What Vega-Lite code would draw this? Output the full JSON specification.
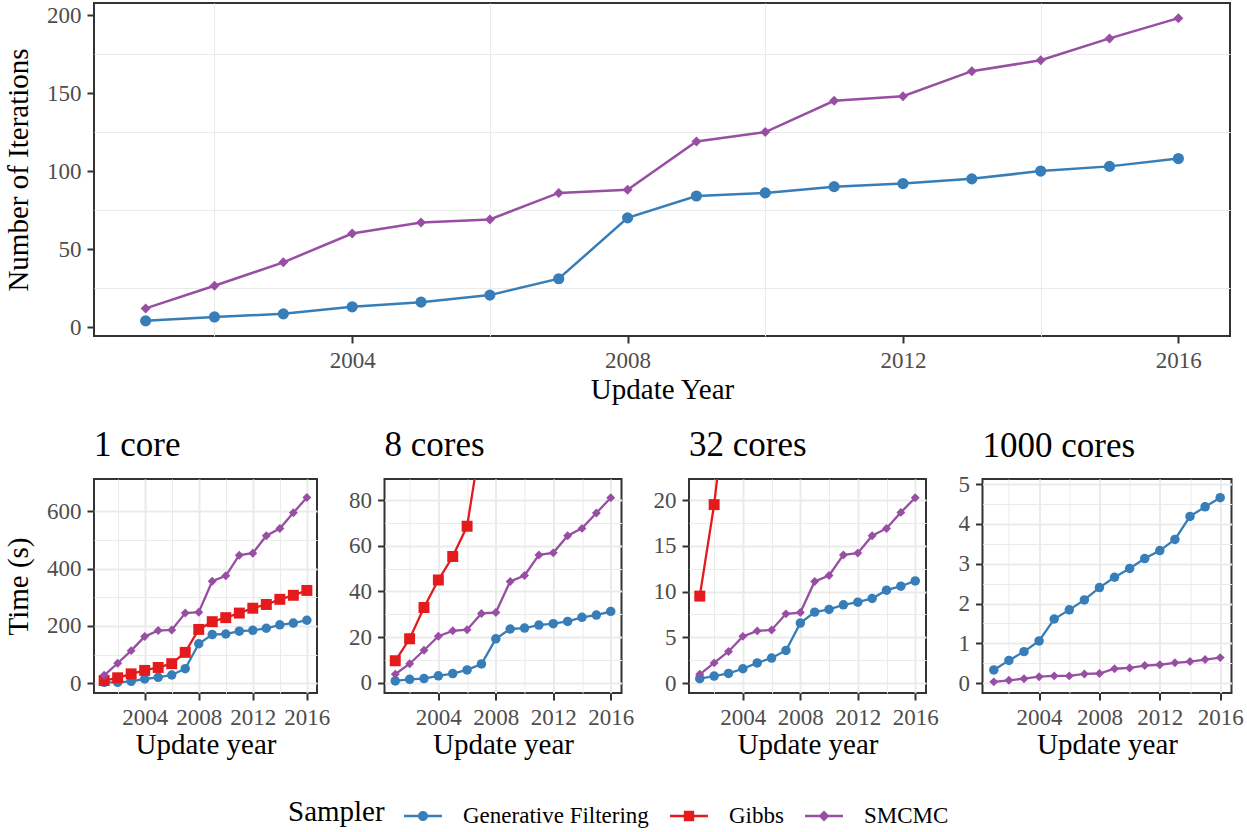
{
  "$schema": "https://vega.github.io/schema/vega-lite/v6.json",
  "padding": {"left": 3, "top": 2, "right": 4, "bottom": 5},
  "background": "white",
  "config": {
    "font": "Liberation Serif",
    "view": {"stroke": "#333333", "strokeWidth": 2},
    "axis": {
      "labelFont": "Liberation Serif", "labelFontSize": 23, "labelColor": "#4D4D4D",
      "titleFont": "Liberation Serif", "titleFontSize": 29, "titleFontWeight": "normal", "titleColor": "black",
      "tickColor": "#333333", "tickWidth": 2, "tickSize": 7, "domain": false,
      "gridColor": "#EBEBEB", "gridWidth": 2, "labelPadding": 6, "titlePadding": 3
    },
    "legend": {
      "orient": "none", "legendX": 194, "legendY": 793, "direction": "horizontal", "titleOrient": "left",
      "titleFontSize": 29, "titleFontWeight": "normal", "titleColor": "black", "titleFont": "Liberation Serif", "titlePadding": 18,
      "labelFontSize": 23, "labelColor": "black", "labelFont": "Liberation Serif", "labelOffset": 20, "columnPadding": 20, "labelLimit": 400,
      "symbolSize": 1600, "symbolStrokeWidth": 0, "symbolOpacity": 1
    },
    "title": {"font": "Liberation Serif", "fontSize": 35, "fontWeight": "normal", "anchor": "start", "frame": "group", "color": "black", "offset": 16}
  },
  "datasets": {
    "iter": [
      {"year": 2001, "sampler": "Generative Filtering", "iterations": 4},
      {"year": 2002, "sampler": "Generative Filtering", "iterations": 6.5},
      {"year": 2003, "sampler": "Generative Filtering", "iterations": 8.5},
      {"year": 2004, "sampler": "Generative Filtering", "iterations": 13},
      {"year": 2005, "sampler": "Generative Filtering", "iterations": 16},
      {"year": 2006, "sampler": "Generative Filtering", "iterations": 20.5},
      {"year": 2007, "sampler": "Generative Filtering", "iterations": 31},
      {"year": 2008, "sampler": "Generative Filtering", "iterations": 70},
      {"year": 2009, "sampler": "Generative Filtering", "iterations": 84},
      {"year": 2010, "sampler": "Generative Filtering", "iterations": 86},
      {"year": 2011, "sampler": "Generative Filtering", "iterations": 90},
      {"year": 2012, "sampler": "Generative Filtering", "iterations": 92},
      {"year": 2013, "sampler": "Generative Filtering", "iterations": 95},
      {"year": 2014, "sampler": "Generative Filtering", "iterations": 100},
      {"year": 2015, "sampler": "Generative Filtering", "iterations": 103},
      {"year": 2016, "sampler": "Generative Filtering", "iterations": 108},
      {"year": 2001, "sampler": "SMCMC", "iterations": 12},
      {"year": 2002, "sampler": "SMCMC", "iterations": 26.5},
      {"year": 2003, "sampler": "SMCMC", "iterations": 41.5},
      {"year": 2004, "sampler": "SMCMC", "iterations": 60},
      {"year": 2005, "sampler": "SMCMC", "iterations": 67},
      {"year": 2006, "sampler": "SMCMC", "iterations": 69},
      {"year": 2007, "sampler": "SMCMC", "iterations": 86},
      {"year": 2008, "sampler": "SMCMC", "iterations": 88},
      {"year": 2009, "sampler": "SMCMC", "iterations": 119},
      {"year": 2010, "sampler": "SMCMC", "iterations": 125},
      {"year": 2011, "sampler": "SMCMC", "iterations": 145},
      {"year": 2012, "sampler": "SMCMC", "iterations": 148},
      {"year": 2013, "sampler": "SMCMC", "iterations": 164},
      {"year": 2014, "sampler": "SMCMC", "iterations": 171},
      {"year": 2015, "sampler": "SMCMC", "iterations": 185},
      {"year": 2016, "sampler": "SMCMC", "iterations": 198}
    ],
    "time": [
      {"panel": "1 core", "year": 2001, "sampler": "Generative Filtering", "time": 3.5},
      {"panel": "1 core", "year": 2002, "sampler": "Generative Filtering", "time": 3.5},
      {"panel": "1 core", "year": 2003, "sampler": "Generative Filtering", "time": 7},
      {"panel": "1 core", "year": 2004, "sampler": "Generative Filtering", "time": 15},
      {"panel": "1 core", "year": 2005, "sampler": "Generative Filtering", "time": 21},
      {"panel": "1 core", "year": 2006, "sampler": "Generative Filtering", "time": 29},
      {"panel": "1 core", "year": 2007, "sampler": "Generative Filtering", "time": 51},
      {"panel": "1 core", "year": 2008, "sampler": "Generative Filtering", "time": 138},
      {"panel": "1 core", "year": 2009, "sampler": "Generative Filtering", "time": 170},
      {"panel": "1 core", "year": 2010, "sampler": "Generative Filtering", "time": 172},
      {"panel": "1 core", "year": 2011, "sampler": "Generative Filtering", "time": 182},
      {"panel": "1 core", "year": 2012, "sampler": "Generative Filtering", "time": 185},
      {"panel": "1 core", "year": 2013, "sampler": "Generative Filtering", "time": 192},
      {"panel": "1 core", "year": 2014, "sampler": "Generative Filtering", "time": 204},
      {"panel": "1 core", "year": 2015, "sampler": "Generative Filtering", "time": 210},
      {"panel": "1 core", "year": 2016, "sampler": "Generative Filtering", "time": 220},
      {"panel": "1 core", "year": 2001, "sampler": "Gibbs", "time": 9.7},
      {"panel": "1 core", "year": 2002, "sampler": "Gibbs", "time": 19.3},
      {"panel": "1 core", "year": 2003, "sampler": "Gibbs", "time": 33},
      {"panel": "1 core", "year": 2004, "sampler": "Gibbs", "time": 45},
      {"panel": "1 core", "year": 2005, "sampler": "Gibbs", "time": 55.3},
      {"panel": "1 core", "year": 2006, "sampler": "Gibbs", "time": 68.5},
      {"panel": "1 core", "year": 2007, "sampler": "Gibbs", "time": 108},
      {"panel": "1 core", "year": 2008, "sampler": "Gibbs", "time": 188},
      {"panel": "1 core", "year": 2009, "sampler": "Gibbs", "time": 215},
      {"panel": "1 core", "year": 2010, "sampler": "Gibbs", "time": 229},
      {"panel": "1 core", "year": 2011, "sampler": "Gibbs", "time": 245},
      {"panel": "1 core", "year": 2012, "sampler": "Gibbs", "time": 262},
      {"panel": "1 core", "year": 2013, "sampler": "Gibbs", "time": 275},
      {"panel": "1 core", "year": 2014, "sampler": "Gibbs", "time": 293},
      {"panel": "1 core", "year": 2015, "sampler": "Gibbs", "time": 307},
      {"panel": "1 core", "year": 2016, "sampler": "Gibbs", "time": 324},
      {"panel": "1 core", "year": 2001, "sampler": "SMCMC", "time": 28},
      {"panel": "1 core", "year": 2002, "sampler": "SMCMC", "time": 70},
      {"panel": "1 core", "year": 2003, "sampler": "SMCMC", "time": 114},
      {"panel": "1 core", "year": 2004, "sampler": "SMCMC", "time": 163},
      {"panel": "1 core", "year": 2005, "sampler": "SMCMC", "time": 184},
      {"panel": "1 core", "year": 2006, "sampler": "SMCMC", "time": 186},
      {"panel": "1 core", "year": 2007, "sampler": "SMCMC", "time": 245},
      {"panel": "1 core", "year": 2008, "sampler": "SMCMC", "time": 248},
      {"panel": "1 core", "year": 2009, "sampler": "SMCMC", "time": 356},
      {"panel": "1 core", "year": 2010, "sampler": "SMCMC", "time": 375},
      {"panel": "1 core", "year": 2011, "sampler": "SMCMC", "time": 447},
      {"panel": "1 core", "year": 2012, "sampler": "SMCMC", "time": 454},
      {"panel": "1 core", "year": 2013, "sampler": "SMCMC", "time": 515},
      {"panel": "1 core", "year": 2014, "sampler": "SMCMC", "time": 540},
      {"panel": "1 core", "year": 2015, "sampler": "SMCMC", "time": 595},
      {"panel": "1 core", "year": 2016, "sampler": "SMCMC", "time": 648},

      {"panel": "8 cores", "year": 2001, "sampler": "Generative Filtering", "time": 0.9},
      {"panel": "8 cores", "year": 2002, "sampler": "Generative Filtering", "time": 1.6},
      {"panel": "8 cores", "year": 2003, "sampler": "Generative Filtering", "time": 1.9},
      {"panel": "8 cores", "year": 2004, "sampler": "Generative Filtering", "time": 3.1},
      {"panel": "8 cores", "year": 2005, "sampler": "Generative Filtering", "time": 4.1},
      {"panel": "8 cores", "year": 2006, "sampler": "Generative Filtering", "time": 5.7},
      {"panel": "8 cores", "year": 2007, "sampler": "Generative Filtering", "time": 8.3},
      {"panel": "8 cores", "year": 2008, "sampler": "Generative Filtering", "time": 19.3},
      {"panel": "8 cores", "year": 2009, "sampler": "Generative Filtering", "time": 23.6},
      {"panel": "8 cores", "year": 2010, "sampler": "Generative Filtering", "time": 24},
      {"panel": "8 cores", "year": 2011, "sampler": "Generative Filtering", "time": 25.3},
      {"panel": "8 cores", "year": 2012, "sampler": "Generative Filtering", "time": 25.9},
      {"panel": "8 cores", "year": 2013, "sampler": "Generative Filtering", "time": 26.9},
      {"panel": "8 cores", "year": 2014, "sampler": "Generative Filtering", "time": 28.7},
      {"panel": "8 cores", "year": 2015, "sampler": "Generative Filtering", "time": 29.7},
      {"panel": "8 cores", "year": 2016, "sampler": "Generative Filtering", "time": 31.3},
      {"panel": "8 cores", "year": 2001, "sampler": "Gibbs", "time": 9.7},
      {"panel": "8 cores", "year": 2002, "sampler": "Gibbs", "time": 19.3},
      {"panel": "8 cores", "year": 2003, "sampler": "Gibbs", "time": 33},
      {"panel": "8 cores", "year": 2004, "sampler": "Gibbs", "time": 45},
      {"panel": "8 cores", "year": 2005, "sampler": "Gibbs", "time": 55.3},
      {"panel": "8 cores", "year": 2006, "sampler": "Gibbs", "time": 68.5},
      {"panel": "8 cores", "year": 2007, "sampler": "Gibbs", "time": 108},
      {"panel": "8 cores", "year": 2008, "sampler": "Gibbs", "time": 188},
      {"panel": "8 cores", "year": 2009, "sampler": "Gibbs", "time": 215},
      {"panel": "8 cores", "year": 2010, "sampler": "Gibbs", "time": 229},
      {"panel": "8 cores", "year": 2011, "sampler": "Gibbs", "time": 245},
      {"panel": "8 cores", "year": 2012, "sampler": "Gibbs", "time": 262},
      {"panel": "8 cores", "year": 2013, "sampler": "Gibbs", "time": 275},
      {"panel": "8 cores", "year": 2014, "sampler": "Gibbs", "time": 293},
      {"panel": "8 cores", "year": 2015, "sampler": "Gibbs", "time": 307},
      {"panel": "8 cores", "year": 2016, "sampler": "Gibbs", "time": 324},
      {"panel": "8 cores", "year": 2001, "sampler": "SMCMC", "time": 3.8},
      {"panel": "8 cores", "year": 2002, "sampler": "SMCMC", "time": 8.4},
      {"panel": "8 cores", "year": 2003, "sampler": "SMCMC", "time": 14.3},
      {"panel": "8 cores", "year": 2004, "sampler": "SMCMC", "time": 20.4},
      {"panel": "8 cores", "year": 2005, "sampler": "SMCMC", "time": 22.8},
      {"panel": "8 cores", "year": 2006, "sampler": "SMCMC", "time": 23.3},
      {"panel": "8 cores", "year": 2007, "sampler": "SMCMC", "time": 30.4},
      {"panel": "8 cores", "year": 2008, "sampler": "SMCMC", "time": 30.8},
      {"panel": "8 cores", "year": 2009, "sampler": "SMCMC", "time": 44.4},
      {"panel": "8 cores", "year": 2010, "sampler": "SMCMC", "time": 47},
      {"panel": "8 cores", "year": 2011, "sampler": "SMCMC", "time": 56},
      {"panel": "8 cores", "year": 2012, "sampler": "SMCMC", "time": 56.9},
      {"panel": "8 cores", "year": 2013, "sampler": "SMCMC", "time": 64.4},
      {"panel": "8 cores", "year": 2014, "sampler": "SMCMC", "time": 67.6},
      {"panel": "8 cores", "year": 2015, "sampler": "SMCMC", "time": 74.3},
      {"panel": "8 cores", "year": 2016, "sampler": "SMCMC", "time": 81},

      {"panel": "32 cores", "year": 2001, "sampler": "Generative Filtering", "time": 0.47},
      {"panel": "32 cores", "year": 2002, "sampler": "Generative Filtering", "time": 0.76},
      {"panel": "32 cores", "year": 2003, "sampler": "Generative Filtering", "time": 1.05},
      {"panel": "32 cores", "year": 2004, "sampler": "Generative Filtering", "time": 1.56},
      {"panel": "32 cores", "year": 2005, "sampler": "Generative Filtering", "time": 2.2},
      {"panel": "32 cores", "year": 2006, "sampler": "Generative Filtering", "time": 2.73},
      {"panel": "32 cores", "year": 2007, "sampler": "Generative Filtering", "time": 3.56},
      {"panel": "32 cores", "year": 2008, "sampler": "Generative Filtering", "time": 6.55},
      {"panel": "32 cores", "year": 2009, "sampler": "Generative Filtering", "time": 7.75},
      {"panel": "32 cores", "year": 2010, "sampler": "Generative Filtering", "time": 8.04},
      {"panel": "32 cores", "year": 2011, "sampler": "Generative Filtering", "time": 8.55},
      {"panel": "32 cores", "year": 2012, "sampler": "Generative Filtering", "time": 8.84},
      {"panel": "32 cores", "year": 2013, "sampler": "Generative Filtering", "time": 9.24},
      {"panel": "32 cores", "year": 2014, "sampler": "Generative Filtering", "time": 10.15},
      {"panel": "32 cores", "year": 2015, "sampler": "Generative Filtering", "time": 10.58},
      {"panel": "32 cores", "year": 2016, "sampler": "Generative Filtering", "time": 11.16},
      {"panel": "32 cores", "year": 2001, "sampler": "Gibbs", "time": 9.5},
      {"panel": "32 cores", "year": 2002, "sampler": "Gibbs", "time": 19.5},
      {"panel": "32 cores", "year": 2003, "sampler": "Gibbs", "time": 33},
      {"panel": "32 cores", "year": 2004, "sampler": "Gibbs", "time": 45},
      {"panel": "32 cores", "year": 2005, "sampler": "Gibbs", "time": 55.3},
      {"panel": "32 cores", "year": 2006, "sampler": "Gibbs", "time": 68.5},
      {"panel": "32 cores", "year": 2007, "sampler": "Gibbs", "time": 108},
      {"panel": "32 cores", "year": 2008, "sampler": "Gibbs", "time": 188},
      {"panel": "32 cores", "year": 2009, "sampler": "Gibbs", "time": 215},
      {"panel": "32 cores", "year": 2010, "sampler": "Gibbs", "time": 229},
      {"panel": "32 cores", "year": 2011, "sampler": "Gibbs", "time": 245},
      {"panel": "32 cores", "year": 2012, "sampler": "Gibbs", "time": 262},
      {"panel": "32 cores", "year": 2013, "sampler": "Gibbs", "time": 275},
      {"panel": "32 cores", "year": 2014, "sampler": "Gibbs", "time": 293},
      {"panel": "32 cores", "year": 2015, "sampler": "Gibbs", "time": 307},
      {"panel": "32 cores", "year": 2016, "sampler": "Gibbs", "time": 324},
      {"panel": "32 cores", "year": 2001, "sampler": "SMCMC", "time": 0.95},
      {"panel": "32 cores", "year": 2002, "sampler": "SMCMC", "time": 2.2},
      {"panel": "32 cores", "year": 2003, "sampler": "SMCMC", "time": 3.45},
      {"panel": "32 cores", "year": 2004, "sampler": "SMCMC", "time": 5.1},
      {"panel": "32 cores", "year": 2005, "sampler": "SMCMC", "time": 5.7},
      {"panel": "32 cores", "year": 2006, "sampler": "SMCMC", "time": 5.8},
      {"panel": "32 cores", "year": 2007, "sampler": "SMCMC", "time": 7.56},
      {"panel": "32 cores", "year": 2008, "sampler": "SMCMC", "time": 7.7},
      {"panel": "32 cores", "year": 2009, "sampler": "SMCMC", "time": 11.1},
      {"panel": "32 cores", "year": 2010, "sampler": "SMCMC", "time": 11.75},
      {"panel": "32 cores", "year": 2011, "sampler": "SMCMC", "time": 14},
      {"panel": "32 cores", "year": 2012, "sampler": "SMCMC", "time": 14.2},
      {"panel": "32 cores", "year": 2013, "sampler": "SMCMC", "time": 16.1},
      {"panel": "32 cores", "year": 2014, "sampler": "SMCMC", "time": 16.9},
      {"panel": "32 cores", "year": 2015, "sampler": "SMCMC", "time": 18.65},
      {"panel": "32 cores", "year": 2016, "sampler": "SMCMC", "time": 20.25},

      {"panel": "1000 cores", "year": 2001, "sampler": "Generative Filtering", "time": 0.33},
      {"panel": "1000 cores", "year": 2002, "sampler": "Generative Filtering", "time": 0.57},
      {"panel": "1000 cores", "year": 2003, "sampler": "Generative Filtering", "time": 0.79},
      {"panel": "1000 cores", "year": 2004, "sampler": "Generative Filtering", "time": 1.06},
      {"panel": "1000 cores", "year": 2005, "sampler": "Generative Filtering", "time": 1.61},
      {"panel": "1000 cores", "year": 2006, "sampler": "Generative Filtering", "time": 1.84},
      {"panel": "1000 cores", "year": 2007, "sampler": "Generative Filtering", "time": 2.09},
      {"panel": "1000 cores", "year": 2008, "sampler": "Generative Filtering", "time": 2.4},
      {"panel": "1000 cores", "year": 2009, "sampler": "Generative Filtering", "time": 2.66},
      {"panel": "1000 cores", "year": 2010, "sampler": "Generative Filtering", "time": 2.88},
      {"panel": "1000 cores", "year": 2011, "sampler": "Generative Filtering", "time": 3.13},
      {"panel": "1000 cores", "year": 2012, "sampler": "Generative Filtering", "time": 3.33},
      {"panel": "1000 cores", "year": 2013, "sampler": "Generative Filtering", "time": 3.61},
      {"panel": "1000 cores", "year": 2014, "sampler": "Generative Filtering", "time": 4.19},
      {"panel": "1000 cores", "year": 2015, "sampler": "Generative Filtering", "time": 4.43},
      {"panel": "1000 cores", "year": 2016, "sampler": "Generative Filtering", "time": 4.66},
      {"panel": "1000 cores", "year": 2001, "sampler": "SMCMC", "time": 0.03},
      {"panel": "1000 cores", "year": 2002, "sampler": "SMCMC", "time": 0.07},
      {"panel": "1000 cores", "year": 2003, "sampler": "SMCMC", "time": 0.11},
      {"panel": "1000 cores", "year": 2004, "sampler": "SMCMC", "time": 0.16},
      {"panel": "1000 cores", "year": 2005, "sampler": "SMCMC", "time": 0.18},
      {"panel": "1000 cores", "year": 2006, "sampler": "SMCMC", "time": 0.18},
      {"panel": "1000 cores", "year": 2007, "sampler": "SMCMC", "time": 0.23},
      {"panel": "1000 cores", "year": 2008, "sampler": "SMCMC", "time": 0.24},
      {"panel": "1000 cores", "year": 2009, "sampler": "SMCMC", "time": 0.36},
      {"panel": "1000 cores", "year": 2010, "sampler": "SMCMC", "time": 0.38},
      {"panel": "1000 cores", "year": 2011, "sampler": "SMCMC", "time": 0.44},
      {"panel": "1000 cores", "year": 2012, "sampler": "SMCMC", "time": 0.46},
      {"panel": "1000 cores", "year": 2013, "sampler": "SMCMC", "time": 0.51},
      {"panel": "1000 cores", "year": 2014, "sampler": "SMCMC", "time": 0.54},
      {"panel": "1000 cores", "year": 2015, "sampler": "SMCMC", "time": 0.59},
      {"panel": "1000 cores", "year": 2016, "sampler": "SMCMC", "time": 0.64}
    ]
  },
  "spacing": 22,
  "vconcat": [
    {
      "width": 1136, "height": 333,
      "data": {"name": "iter"},
      "layer": [
        {
          "mark": {"type": "point", "filled": true, "opacity": 0},
          "encoding": {
            "x": {"field": "year", "type": "quantitative", "axis": null},
            "y": {"field": "iterations", "type": "quantitative", "axis": null},
            "color": {"field": "sampler", "type": "nominal", "title": "Sampler", "scale": {"domain": ["Generative Filtering", "Gibbs", "SMCMC"], "range": ["#377EB8", "#E41A1C", "#984EA3"]}},
            "shape": {"field": "sampler", "type": "nominal", "title": "Sampler", "scale": {"domain": ["Generative Filtering", "Gibbs", "SMCMC"],
              "range": ["M-0.95,-0.06H0.95V0.06H-0.95Z M-0.25,0A0.25,0.25 0 1,1 0.25,0A0.25,0.25 0 1,1 -0.25,0Z",
                        "M-0.95,-0.06H0.95V0.06H-0.95Z M-0.26,-0.26H0.26V0.26H-0.26Z",
                        "M-0.95,-0.06H0.95V0.06H-0.95Z M0,-0.27L0.27,0L0,0.27L-0.27,0Z"]}}
          }
        },
        {
          "mark": {"type": "line", "strokeWidth": 2.5},
          "encoding": {
            "x": {"field": "year", "type": "quantitative", "scale": {"domain": [2000.25, 2016.75], "nice": false, "zero": false},
                  "axis": {"values": [2004, 2008, 2012, 2016], "format": "d", "title": "Update Year", "labelFont": "Liberation Serif", "titleFont": "Liberation Serif", "titlePadding": 3}},
            "y": {"field": "iterations", "type": "quantitative", "scale": {"domain": [-5.7, 207.7], "nice": false, "zero": false},
                  "axis": {"values": [0, 50, 100, 150, 200], "title": "Number of Iterations", "labelFont": "Liberation Serif", "titleFont": "Liberation Serif", "titlePadding": 13.5}},
            "color": {"field": "sampler", "type": "nominal", "title": "Sampler", "scale": {"domain": ["Generative Filtering", "Gibbs", "SMCMC"], "range": ["#377EB8", "#E41A1C", "#984EA3"]}}
          }
        },
        {
          "transform": [{"filter": "datum.sampler === 'Generative Filtering'"}],
          "mark": {"type": "point", "shape": "circle", "filled": true, "opacity": 1, "size": 125},
          "encoding": {
            "x": {"field": "year", "type": "quantitative",
                  "axis": {"orient": "top", "values": [2002, 2006, 2010, 2014], "grid": true, "gridWidth": 1, "labels": false, "ticks": false, "domain": false, "title": null}},
            "y": {"field": "iterations", "type": "quantitative",
                  "axis": {"orient": "right", "values": [25, 75, 125, 175], "grid": true, "gridWidth": 1, "labels": false, "ticks": false, "domain": false, "title": null}},
            "color": {"field": "sampler", "type": "nominal", "title": "Sampler", "scale": {"domain": ["Generative Filtering", "Gibbs", "SMCMC"], "range": ["#377EB8", "#E41A1C", "#984EA3"]}}
          }
        },
        {
          "transform": [{"filter": "datum.sampler === 'SMCMC'"}],
          "mark": {"type": "point", "shape": "diamond", "filled": true, "opacity": 1, "size": 100},
          "encoding": {
            "x": {"field": "year", "type": "quantitative", "axis": null},
            "y": {"field": "iterations", "type": "quantitative", "axis": null},
            "color": {"field": "sampler", "type": "nominal", "title": "Sampler", "scale": {"domain": ["Generative Filtering", "Gibbs", "SMCMC"], "range": ["#377EB8", "#E41A1C", "#984EA3"]}}
          }
        }
      ],
      "resolve": {"axis": {"x": "independent", "y": "independent"}}
    },
    {
      "spacing": 16.5,
      "hconcat": [
        {
          "width": 223, "height": 214,
          "title": {"text": "1 core"},
          "data": {"name": "time"},
          "transform": [{"filter": "datum.panel === '1 core'"}],
          "layer": [
            {"mark": {"type": "line", "strokeWidth": 2.3, "clip": true},
             "encoding": {
               "x": {"field": "year", "type": "quantitative", "scale": {"domain": [2000.25, 2016.75], "nice": false, "zero": false}, "axis": {"values": [2004, 2008, 2012, 2016], "format": "d", "title": "Update year", "titlePadding": 1, "labelFont": "Liberation Serif"}},
               "y": {"field": "time", "type": "quantitative", "scale": {"domain": [-33.8, 712.7], "nice": false, "zero": false}, "axis": {"values": [0, 200, 400, 600], "title": "Time (s)", "titlePadding": 13.5, "labelFont": "Liberation Serif"}},
               "color": {"field": "sampler", "type": "nominal", "title": "Sampler", "scale": {"domain": ["Generative Filtering", "Gibbs", "SMCMC"], "range": ["#377EB8", "#E41A1C", "#984EA3"]}}}},
            {"transform": [{"filter": "datum.sampler === 'Generative Filtering'"}],
             "mark": {"type": "point", "shape": "circle", "filled": true, "opacity": 1, "size": 90, "clip": true},
             "encoding": {
               "x": {"field": "year", "type": "quantitative", "axis": {"orient": "top", "values": [2002, 2006, 2010, 2014], "grid": true, "gridWidth": 1, "labels": false, "ticks": false, "domain": false, "title": null}},
               "y": {"field": "time", "type": "quantitative", "axis": {"orient": "right", "values": [100, 300, 500], "grid": true, "gridWidth": 1, "labels": false, "ticks": false, "domain": false, "title": null}},
               "color": {"field": "sampler", "type": "nominal", "title": "Sampler", "scale": {"domain": ["Generative Filtering", "Gibbs", "SMCMC"], "range": ["#377EB8", "#E41A1C", "#984EA3"]}}}},
            {"transform": [{"filter": "datum.sampler === 'Gibbs'"}],
             "mark": {"type": "point", "shape": "square", "filled": true, "opacity": 1, "size": 120, "clip": true},
             "encoding": {
               "x": {"field": "year", "type": "quantitative", "axis": null},
               "y": {"field": "time", "type": "quantitative", "axis": null},
               "color": {"field": "sampler", "type": "nominal", "title": "Sampler", "scale": {"domain": ["Generative Filtering", "Gibbs", "SMCMC"], "range": ["#377EB8", "#E41A1C", "#984EA3"]}}}},
            {"transform": [{"filter": "datum.sampler === 'SMCMC'"}],
             "mark": {"type": "point", "shape": "diamond", "filled": true, "opacity": 1, "size": 80, "clip": true},
             "encoding": {
               "x": {"field": "year", "type": "quantitative", "axis": null},
               "y": {"field": "time", "type": "quantitative", "axis": null},
               "color": {"field": "sampler", "type": "nominal", "title": "Sampler", "scale": {"domain": ["Generative Filtering", "Gibbs", "SMCMC"], "range": ["#377EB8", "#E41A1C", "#984EA3"]}}}}
          ],
          "resolve": {"axis": {"x": "independent", "y": "independent"}}
        },
        {
          "width": 237, "height": 214,
          "title": {"text": "8 cores"},
          "data": {"name": "time"},
          "transform": [{"filter": "datum.panel === '8 cores'"}],
          "layer": [
            {"mark": {"type": "line", "strokeWidth": 2.3, "clip": true},
             "encoding": {
               "x": {"field": "year", "type": "quantitative", "scale": {"domain": [2000.25, 2016.75], "nice": false, "zero": false}, "axis": {"values": [2004, 2008, 2012, 2016], "format": "d", "title": "Update year", "titlePadding": 1, "labelFont": "Liberation Serif"}},
               "y": {"field": "time", "type": "quantitative", "scale": {"domain": [-4.4, 89.2], "nice": false, "zero": false}, "axis": {"values": [0, 20, 40, 60, 80], "title": null, "labelFont": "Liberation Serif"}},
               "color": {"field": "sampler", "type": "nominal", "title": "Sampler", "scale": {"domain": ["Generative Filtering", "Gibbs", "SMCMC"], "range": ["#377EB8", "#E41A1C", "#984EA3"]}}}},
            {"transform": [{"filter": "datum.sampler === 'Generative Filtering'"}],
             "mark": {"type": "point", "shape": "circle", "filled": true, "opacity": 1, "size": 90, "clip": true},
             "encoding": {
               "x": {"field": "year", "type": "quantitative", "axis": {"orient": "top", "values": [2002, 2006, 2010, 2014], "grid": true, "gridWidth": 1, "labels": false, "ticks": false, "domain": false, "title": null}},
               "y": {"field": "time", "type": "quantitative", "axis": {"orient": "right", "values": [10, 30, 50, 70], "grid": true, "gridWidth": 1, "labels": false, "ticks": false, "domain": false, "title": null}},
               "color": {"field": "sampler", "type": "nominal", "title": "Sampler", "scale": {"domain": ["Generative Filtering", "Gibbs", "SMCMC"], "range": ["#377EB8", "#E41A1C", "#984EA3"]}}}},
            {"transform": [{"filter": "datum.sampler === 'Gibbs'"}],
             "mark": {"type": "point", "shape": "square", "filled": true, "opacity": 1, "size": 120, "clip": true},
             "encoding": {
               "x": {"field": "year", "type": "quantitative", "axis": null},
               "y": {"field": "time", "type": "quantitative", "axis": null},
               "color": {"field": "sampler", "type": "nominal", "title": "Sampler", "scale": {"domain": ["Generative Filtering", "Gibbs", "SMCMC"], "range": ["#377EB8", "#E41A1C", "#984EA3"]}}}},
            {"transform": [{"filter": "datum.sampler === 'SMCMC'"}],
             "mark": {"type": "point", "shape": "diamond", "filled": true, "opacity": 1, "size": 80, "clip": true},
             "encoding": {
               "x": {"field": "year", "type": "quantitative", "axis": null},
               "y": {"field": "time", "type": "quantitative", "axis": null},
               "color": {"field": "sampler", "type": "nominal", "title": "Sampler", "scale": {"domain": ["Generative Filtering", "Gibbs", "SMCMC"], "range": ["#377EB8", "#E41A1C", "#984EA3"]}}}}
          ],
          "resolve": {"axis": {"x": "independent", "y": "independent"}}
        },
        {
          "width": 237, "height": 214,
          "title": {"text": "32 cores"},
          "data": {"name": "time"},
          "transform": [{"filter": "datum.panel === '32 cores'"}],
          "layer": [
            {"mark": {"type": "line", "strokeWidth": 2.3, "clip": true},
             "encoding": {
               "x": {"field": "year", "type": "quantitative", "scale": {"domain": [2000.25, 2016.75], "nice": false, "zero": false}, "axis": {"values": [2004, 2008, 2012, 2016], "format": "d", "title": "Update year", "titlePadding": 1, "labelFont": "Liberation Serif"}},
               "y": {"field": "time", "type": "quantitative", "scale": {"domain": [-1.09, 22.3], "nice": false, "zero": false}, "axis": {"values": [0, 5, 10, 15, 20], "title": null, "labelFont": "Liberation Serif"}},
               "color": {"field": "sampler", "type": "nominal", "title": "Sampler", "scale": {"domain": ["Generative Filtering", "Gibbs", "SMCMC"], "range": ["#377EB8", "#E41A1C", "#984EA3"]}}}},
            {"transform": [{"filter": "datum.sampler === 'Generative Filtering'"}],
             "mark": {"type": "point", "shape": "circle", "filled": true, "opacity": 1, "size": 90, "clip": true},
             "encoding": {
               "x": {"field": "year", "type": "quantitative", "axis": {"orient": "top", "values": [2002, 2006, 2010, 2014], "grid": true, "gridWidth": 1, "labels": false, "ticks": false, "domain": false, "title": null}},
               "y": {"field": "time", "type": "quantitative", "axis": {"orient": "right", "values": [2.5, 7.5, 12.5, 17.5], "grid": true, "gridWidth": 1, "labels": false, "ticks": false, "domain": false, "title": null}},
               "color": {"field": "sampler", "type": "nominal", "title": "Sampler", "scale": {"domain": ["Generative Filtering", "Gibbs", "SMCMC"], "range": ["#377EB8", "#E41A1C", "#984EA3"]}}}},
            {"transform": [{"filter": "datum.sampler === 'Gibbs'"}],
             "mark": {"type": "point", "shape": "square", "filled": true, "opacity": 1, "size": 120, "clip": true},
             "encoding": {
               "x": {"field": "year", "type": "quantitative", "axis": null},
               "y": {"field": "time", "type": "quantitative", "axis": null},
               "color": {"field": "sampler", "type": "nominal", "title": "Sampler", "scale": {"domain": ["Generative Filtering", "Gibbs", "SMCMC"], "range": ["#377EB8", "#E41A1C", "#984EA3"]}}}},
            {"transform": [{"filter": "datum.sampler === 'SMCMC'"}],
             "mark": {"type": "point", "shape": "diamond", "filled": true, "opacity": 1, "size": 80, "clip": true},
             "encoding": {
               "x": {"field": "year", "type": "quantitative", "axis": null},
               "y": {"field": "time", "type": "quantitative", "axis": null},
               "color": {"field": "sampler", "type": "nominal", "title": "Sampler", "scale": {"domain": ["Generative Filtering", "Gibbs", "SMCMC"], "range": ["#377EB8", "#E41A1C", "#984EA3"]}}}}
          ],
          "resolve": {"axis": {"x": "independent", "y": "independent"}}
        },
        {
          "width": 249, "height": 214,
          "title": {"text": "1000 cores", "offset": 9},
          "data": {"name": "time"},
          "transform": [{"filter": "datum.panel === '1000 cores'"}],
          "layer": [
            {"mark": {"type": "line", "strokeWidth": 2.3, "clip": true},
             "encoding": {
               "x": {"field": "year", "type": "quantitative", "scale": {"domain": [2000.25, 2016.75], "nice": false, "zero": false}, "axis": {"values": [2004, 2008, 2012, 2016], "format": "d", "title": "Update year", "titlePadding": 1, "labelFont": "Liberation Serif"}},
               "y": {"field": "time", "type": "quantitative", "scale": {"domain": [-0.25, 5.13], "nice": false, "zero": false}, "axis": {"values": [0, 1, 2, 3, 4, 5], "title": null, "labelFont": "Liberation Serif"}},
               "color": {"field": "sampler", "type": "nominal", "title": "Sampler", "scale": {"domain": ["Generative Filtering", "Gibbs", "SMCMC"], "range": ["#377EB8", "#E41A1C", "#984EA3"]}}}},
            {"transform": [{"filter": "datum.sampler === 'Generative Filtering'"}],
             "mark": {"type": "point", "shape": "circle", "filled": true, "opacity": 1, "size": 90, "clip": true},
             "encoding": {
               "x": {"field": "year", "type": "quantitative", "axis": {"orient": "top", "values": [2002, 2006, 2010, 2014], "grid": true, "gridWidth": 1, "labels": false, "ticks": false, "domain": false, "title": null}},
               "y": {"field": "time", "type": "quantitative", "axis": {"orient": "right", "values": [0.5, 1.5, 2.5, 3.5, 4.5], "grid": true, "gridWidth": 1, "labels": false, "ticks": false, "domain": false, "title": null}},
               "color": {"field": "sampler", "type": "nominal", "title": "Sampler", "scale": {"domain": ["Generative Filtering", "Gibbs", "SMCMC"], "range": ["#377EB8", "#E41A1C", "#984EA3"]}}}},
            {"transform": [{"filter": "datum.sampler === 'SMCMC'"}],
             "mark": {"type": "point", "shape": "diamond", "filled": true, "opacity": 1, "size": 80, "clip": true},
             "encoding": {
               "x": {"field": "year", "type": "quantitative", "axis": null},
               "y": {"field": "time", "type": "quantitative", "axis": null},
               "color": {"field": "sampler", "type": "nominal", "title": "Sampler", "scale": {"domain": ["Generative Filtering", "Gibbs", "SMCMC"], "range": ["#377EB8", "#E41A1C", "#984EA3"]}}}}
          ],
          "resolve": {"axis": {"x": "independent", "y": "independent"}}
        }
      ]
    }
  ]
}
